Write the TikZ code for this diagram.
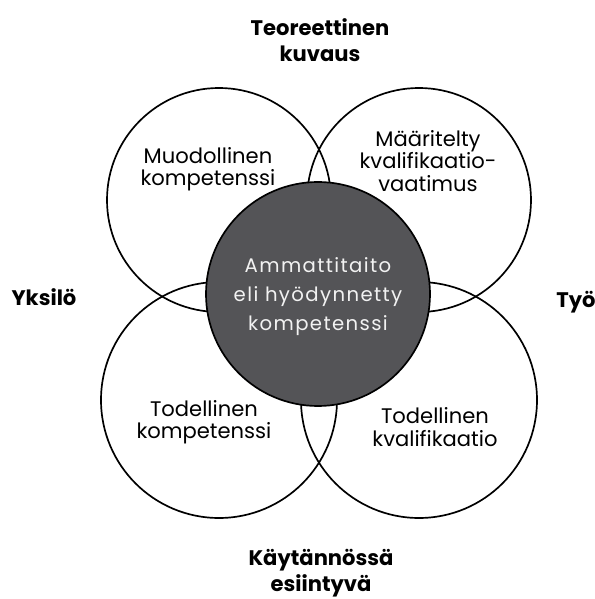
\documentclass[tikz,border=0pt]{standalone}
\usepackage{fontspec}
\setmainfont{Poppins}
\usepackage{tikz}
\usetikzlibrary{positioning,calc}
\definecolor{coregray}{rgb}{0.33,0.33,0.34}

\begin{document}
\begin{tikzpicture}[
    ring/.style={circle, draw, line width=1.2pt, inner sep=0pt},
    inner/.style={align=center, font=\fontsize{15}{15.8}\selectfont},
    side/.style={align=center, font=\fontsize{15}{18.4}\selectfont\bfseries}
  ]
            \useasboundingbox (0,0) rectangle (14.875,14.975);
            % four circles
            \node[ring, minimum size=5.6cm] (muod) at (5.475,9.975) {};
            \node[ring, minimum size=5.6cm] (maar) at (10.475,9.975) {};
            \node[ring, minimum size=5.9cm] (todk) at (5.475,4.975) {};
            \node[ring, minimum size=5.9cm] (todq) at (10.475,4.975) {};
            % centre
            \node[ring, fill=coregray, minimum size=5.6cm] (core) at (7.95,7.625) {};
            \node[align=center, text=white!90!gray, font=\fontsize{14}{20.6}\selectfont\addfontfeatures{LetterSpace=7}] (ammat) at (7.95,7.55)
                {Ammattitaito\\eli hyödynnetty\\kompetenssi};
            % texts in the circles
            \node[inner] (muodt) at (5.2,10.75) {Muodollinen\\kompetenssi};
            \node[inner] (maart) at (10.7,10.95) {Määritelty\\kvalifikaatio-\\vaatimus};
            \node[inner] (todkt) at (5.1,4.425) {Todellinen\\kompetenssi};
            \node[inner] (todqt) at (10.875,4.3) {Todellinen\\kvalifikaatio};
            % labels
            \node[side] (teor) at (8.0,13.975) {Teoreettinen\\kuvaus};
            \node[side] (kayt) at (8.025,0.65) {Käytännössä\\esiintyvä};
            \node[side] (yksi) at (1.1,7.55) {Yksilö};
            \node[side] (tyo) at (14.4,7.425) {Työ};
        \end{tikzpicture}
\end{document}
